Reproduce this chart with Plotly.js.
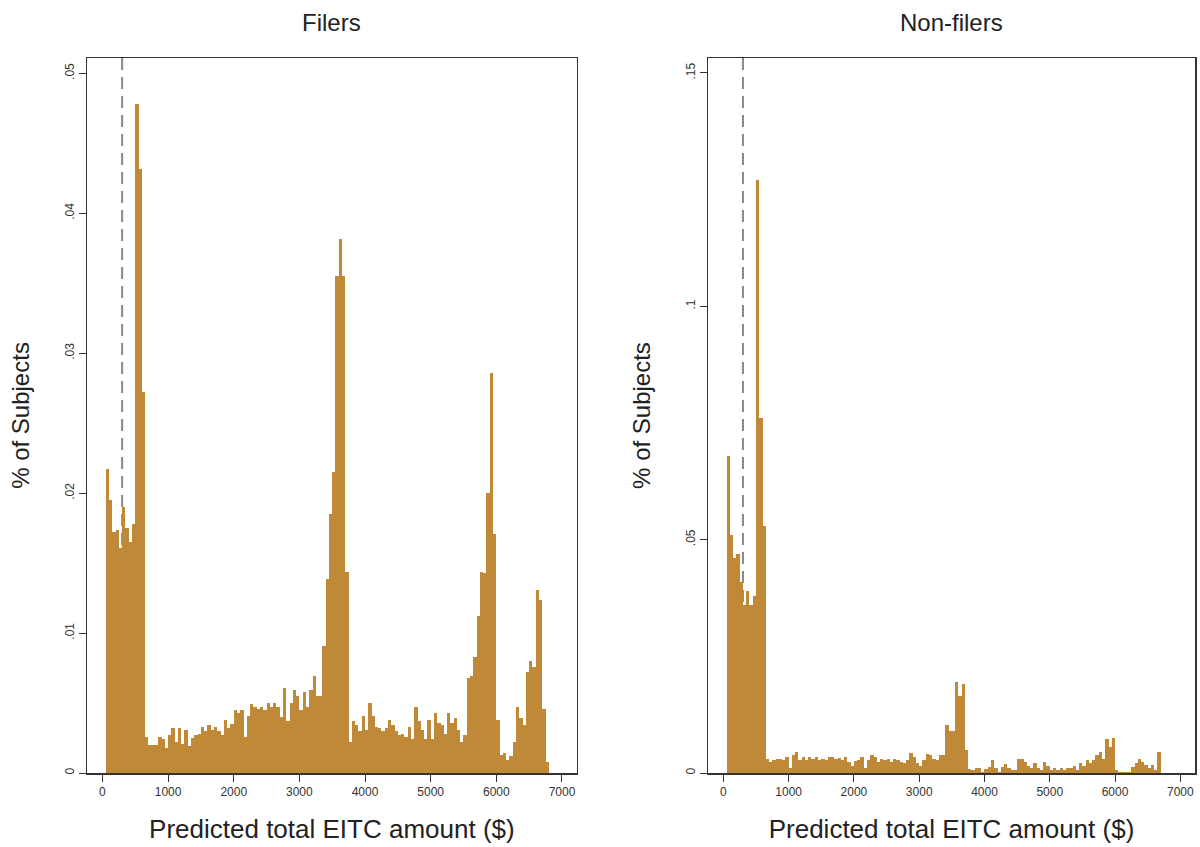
<!DOCTYPE html>
<html>
<head>
<meta charset="utf-8">
<script src="https://cdn.plot.ly/plotly-3.0.1.min.js"></script>
<style>html,body{margin:0;padding:0;background:#fff;}#chart{width:1200px;height:847px;}</style>
</head>
<body>
<div id="chart"></div>
<script>
// Histogram bins: start at $50, width $50
const binStart = 50;
const binWidth = 50;
const thresholdLine = 300;

const filers = [
  0.0217, 0.0195, 0.0172, 0.0174, 0.0161, 0.0190, 0.0175, 0.0165, 0.0178, 0.0478, 0.0432, 0.0272,
  0.0026, 0.0020, 0.0020, 0.0020, 0.0026, 0.0024, 0.0018, 0.0027, 0.0032, 0.0022, 0.0032, 0.0021,
  0.0031, 0.0019, 0.0025, 0.0027, 0.0028, 0.0033, 0.0030, 0.0034, 0.0031, 0.0033, 0.0030, 0.0027,
  0.0038, 0.0032, 0.0035, 0.0045, 0.0043, 0.0045, 0.0026, 0.0041, 0.0049, 0.0047, 0.0046,
  0.0047, 0.0045, 0.0050, 0.0047, 0.0050, 0.0047, 0.0040, 0.0061, 0.0037, 0.0050, 0.0059, 0.0055,
  0.0045, 0.0058, 0.0047, 0.0059, 0.0069, 0.0055, 0.0055,
  0.0091, 0.0139, 0.0185, 0.0215, 0.0355, 0.0382, 0.0355, 0.0144,
  0.0022, 0.0037, 0.0034, 0.0030, 0.0041, 0.0031, 0.0050, 0.0041, 0.0033, 0.0032, 0.0030, 0.0032,
  0.0038, 0.0034, 0.0030, 0.0027, 0.0028, 0.0026, 0.0033, 0.0024, 0.0047, 0.0037, 0.0031, 0.0024,
  0.0038, 0.0024, 0.0043, 0.0036, 0.0034, 0.0028, 0.0043, 0.0036, 0.0039, 0.0031, 0.0022, 0.0027,
  0.0068, 0.0069, 0.0083, 0.0112, 0.0144, 0.0143, 0.0200, 0.0286, 0.0171, 0.0038, 0.0013, 0.0014,
  0.0009, 0.0012, 0.0022, 0.0047, 0.0039, 0.0034, 0.0072, 0.0080, 0.0076, 0.0131, 0.0124, 0.0046, 0.0008
];

const nonFilers = [
  0.068, 0.051, 0.046, 0.047, 0.041, 0.036, 0.039, 0.036, 0.038, 0.127, 0.076, 0.053,
  0.0029, 0.0024, 0.0028, 0.0029, 0.0031, 0.0028, 0.0034, 0.0010, 0.0039, 0.0046, 0.0028, 0.0035,
  0.0028, 0.0035, 0.0031, 0.0035, 0.0028, 0.0031, 0.0028, 0.0034, 0.0035, 0.0029, 0.0033, 0.0028,
  0.0035, 0.0024, 0.0014,
  0.0026,
  0.0028, 0.0035, 0.0010, 0.0028, 0.0039, 0.0034, 0.0024, 0.0031, 0.0028, 0.0031, 0.0024, 0.0031,
  0.0028, 0.0024, 0.0021, 0.0028, 0.0042, 0.0035, 0.0021, 0.0014, 0.0028, 0.0040, 0.0039, 0.0031,
  0.0028, 0.0039,
  0.0039,
  0.0103, 0.0089, 0.0089, 0.0194, 0.0165, 0.0191, 0.0049, 0.0008,
  0.0006, 0.0010, 0.0010, 0.0003, 0.0008, 0.0012, 0.0028, 0.0010, 0.0003, 0.0012, 0.0019, 0.0010,
  0.0006, 0.0006, 0.0029, 0.0029, 0.0024, 0.0014, 0.0010, 0.0021, 0.0010, 0.0006, 0.0024, 0.0014,
  0.0006, 0.0010, 0.0006, 0.0010, 0.0006, 0.0010, 0.0010,
  0.0014, 0.0006, 0.0021, 0.0015, 0.0028, 0.0021, 0.0028, 0.0039, 0.0044, 0.0031, 0.0072, 0.0056,
  0.0076, 0.0006, 0.0003, 0.0003, 0.0003, 0.0003, 0.0012, 0.0021, 0.0029, 0.0024, 0.0017, 0.0010,
  0.0017, 0.0006, 0.0046,
  0, 0
];

const xTickVals = [0, 1000, 2000, 3000, 4000, 5000, 6000, 7000];
const xTickText = ['0', '1000', '2000', '3000', '4000', '5000', '6000', '7000'];
const yTickValsLeft = [0, 0.01, 0.02, 0.03, 0.04, 0.05];
const yTickTextLeft = ['0', '.01', '.02', '.03', '.04', '.05'];
const yTickValsRight = [0, 0.05, 0.1, 0.15];
const yTickTextRight = ['0', '.05', '.1', '.15'];

const panelTitles = ['Filers', 'Non-filers'];
const xTitle = 'Predicted total EITC amount ($)';
const yTitle = '% of Subjects';

const binCenters = filers.map((_, i) => binStart + (i + 0.5) * binWidth);
const barColor = '#bf8937';

const traces = [
  {type: 'bar', x: binCenters, y: filers, width: binWidth, xaxis: 'x', yaxis: 'y',
   marker: {color: barColor, line: {width: 0}}, hoverinfo: 'x+y', showlegend: false},
  {type: 'bar', x: binCenters, y: nonFilers, width: binWidth, xaxis: 'x2', yaxis: 'y2',
   marker: {color: barColor, line: {width: 0}}, hoverinfo: 'x+y', showlegend: false}
];

const fontFam = 'Liberation Sans, Arial, sans-serif';
const xRange = [-235, 7225];

function xAxis(domain, anchor) {
  return {
    domain: domain, anchor: anchor, range: xRange,
    tickvals: xTickVals, ticktext: xTickText,
    ticks: 'outside', ticklen: 7, tickwidth: 1, tickcolor: '#333',
    showline: true, mirror: true, linecolor: '#333', linewidth: 1.5,
    showgrid: false, zeroline: false,
    tickfont: {family: fontFam, size: 12, color: '#333'},
    title: {text: xTitle, font: {family: fontFam, size: 26, color: '#222'}, standoff: 22},
    automargin: false
  };
}
function yAxis(domain, anchor, range, vals, text) {
  return {
    domain: domain, anchor: anchor, range: range,
    tickvals: vals, ticktext: text, tickangle: -90,
    ticks: 'outside', ticklen: 7, tickwidth: 1, tickcolor: '#333',
    showline: true, mirror: true, linecolor: '#333', linewidth: 1.5,
    showgrid: false, zeroline: false,
    tickfont: {family: fontFam, size: 12, color: '#333'},
    title: {text: yTitle, font: {family: fontFam, size: 24, color: '#222'}, standoff: 26},
    automargin: false
  };
}

const layout = {
  width: 1200, height: 847,
  margin: {l: 87, r: 5, t: 58, b: 74},
  paper_bgcolor: '#fff', plot_bgcolor: '#fff',
  bargap: 0,
  xaxis: xAxis([0, 0.442], 'y'),
  yaxis: yAxis([0, 1], 'x', [0, 0.0511], yTickValsLeft, yTickTextLeft),
  xaxis2: xAxis([0.5605, 1.0], 'y2'),
  yaxis2: yAxis([0, 1], 'x2', [0, 0.1532], yTickValsRight, yTickTextRight),
  shapes: [
    {type: 'line', xref: 'x', yref: 'y domain', x0: thresholdLine, x1: thresholdLine, y0: 0, y1: 1,
     line: {color: '#888', width: 2, dash: '12px,7px'}, layer: 'below'},
    {type: 'line', xref: 'x2', yref: 'y2 domain', x0: thresholdLine, x1: thresholdLine, y0: 0, y1: 1,
     line: {color: '#888', width: 2, dash: '12px,7px'}, layer: 'below'}
  ],
  annotations: [
    {text: panelTitles[0], xref: 'x domain', yref: 'paper', x: 0.5, y: 1, yshift: 36,
     xanchor: 'center', yanchor: 'middle', showarrow: false,
     font: {family: fontFam, size: 24, color: '#222'}},
    {text: panelTitles[1], xref: 'x2 domain', yref: 'paper', x: 0.5, y: 1, yshift: 36,
     xanchor: 'center', yanchor: 'middle', showarrow: false,
     font: {family: fontFam, size: 24, color: '#222'}}
  ]
};

Plotly.newPlot('chart', traces, layout, {staticPlot: true, displayModeBar: false});
</script>
</body>
</html>
